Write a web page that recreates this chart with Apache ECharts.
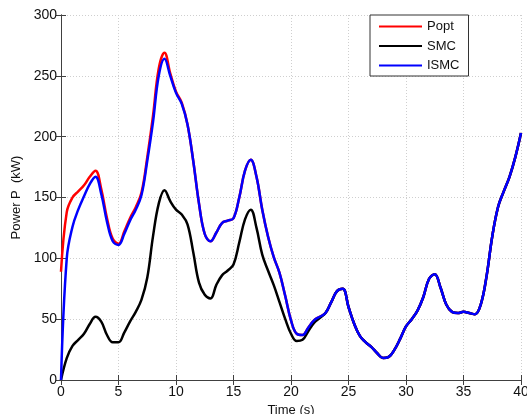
<!DOCTYPE html>
<html>
<head>
<meta charset="utf-8">
<script src="https://cdn.jsdelivr.net/npm/echarts@6/dist/echarts.min.js"></script>
<style>
  html, body { margin: 0; padding: 0; background: #fff; }
  #chart { width: 527px; height: 414px; }
</style>
</head>
<body>
<div id="chart"></div>
<script>
// 时间轴 (s)，每 0.5 s 一个点
const time = [];
for (let i = 0; i <= 80; i++) time.push(i * 0.5);

// Popt
const popt = [
  89, 138, 150, 155, 160, 167, 172, 157, 133, 116,
  112, 122, 133, 142, 154, 183, 217, 256, 269, 252,
  237, 228, 210, 180, 145, 120, 114, 121, 129, 131,
  133, 150, 172, 181, 167, 140, 118, 101, 88, 69,
  49, 38, 37, 43, 49, 52, 55, 64, 73, 75,
  60, 46, 36, 31, 27, 22, 18, 19, 25, 34,
  44, 50, 57, 68, 83, 87, 76, 62, 56, 55,
  56, 55, 54, 62, 85, 118, 142, 155, 167, 183,
  203
];

// SMC
const smc = [
  0, 18, 28, 33, 38, 46, 52, 48, 37, 31,
  31, 39, 48, 56, 66, 84, 118, 145, 156, 147,
  140, 136, 128, 105, 80, 70, 67, 78, 86, 90,
  95, 113, 132, 140, 125, 103, 90, 78, 64, 50,
  38, 32, 33, 40, 47, 51, 55, 64, 73, 75,
  60, 46, 36, 31, 27, 22, 18, 19, 25, 34,
  44, 50, 57, 68, 83, 87, 76, 62, 56, 55,
  56, 55, 54, 62, 85, 118, 142, 155, 167, 183,
  203
];

// ISMC
const ismc = [
  0, 100, 126, 140, 151, 161, 167, 153, 130, 114,
  111, 120, 131, 140, 152, 180, 212, 250, 264, 250,
  236, 227, 210, 180, 145, 120, 114, 121, 129, 131,
  133, 150, 172, 181, 167, 140, 118, 101, 88, 69,
  49, 38, 37, 43, 49, 52, 55, 64, 73, 75,
  60, 46, 36, 31, 27, 22, 18, 19, 25, 34,
  44, 50, 57, 68, 83, 87, 76, 62, 56, 55,
  56, 55, 54, 62, 85, 118, 142, 155, 167, 183,
  203
];

const seriesNames = ["Popt", "SMC", "ISMC"];
const seriesColors = ["#ff0000", "#000000", "#0000ff"];

const font = "Arial, 'Liberation Sans', sans-serif";
const axisColor = "#404040";

const pairs = (ys) => time.map((t, i) => [t, ys[i]]);

const frameAxis = (extra) => Object.assign({
    axisLine: {show: true, lineStyle: {color: axisColor, width: 1}},
    axisTick: {show: true, inside: true, length: 5, lineStyle: {color: axisColor}},
    splitLine: {show: false},
    axisLabel: {show: false},
}, extra);

const chart = echarts.init(document.getElementById("chart"));
chart.setOption({
    animation: false,
    backgroundColor: "#fff",
    textStyle: {fontFamily: font},
    grid: {left: 61, right: 6, top: 15, bottom: 34, containLabel: false, outerBoundsMode: "none"},
    legend: {
        orient: "vertical",
        left: 370,
        top: 15,
        data: seriesNames,
        itemWidth: 43,
        itemHeight: 14,
        itemGap: 6.5,
        itemTextGap: 6,
        padding: [5, 9, 4, 8],
        borderColor: "#333",
        borderWidth: 1,
        backgroundColor: "#fff",
        itemStyle: {opacity: 0},
        lineStyle: {width: 2},
        textStyle: {fontSize: 13, color: "#111", fontFamily: font},
    },
    xAxis: [
        {
            type: "value", min: 0, max: 40, interval: 5,
            name: "Time (s)", nameLocation: "middle", nameGap: 22,
            nameTextStyle: {fontSize: 13, color: "#111", fontFamily: font},
            axisLine: {lineStyle: {color: axisColor, width: 1}},
            axisTick: {inside: true, length: 5, lineStyle: {color: axisColor}},
            axisLabel: {fontSize: 14, color: "#111", margin: 5, fontFamily: font},
            splitLine: {show: true, lineStyle: {color: "#cfcfcf", type: [1, 2]}},
        },
        frameAxis({type: "value", position: "top", min: 0, max: 40, interval: 5}),
    ],
    yAxis: [
        {
            type: "value", min: 0, max: 300, interval: 50,
            name: "Power P  (kW)", nameLocation: "middle", nameGap: 37,
            nameTextStyle: {fontSize: 13, color: "#111", fontFamily: font},
            axisLine: {show: true, lineStyle: {color: axisColor, width: 1}},
            axisTick: {show: true, inside: true, length: 5, lineStyle: {color: axisColor}},
            axisLabel: {fontSize: 14, color: "#111", margin: 4, fontFamily: font},
            splitLine: {show: true, lineStyle: {color: "#cfcfcf", type: [1, 2]}},
        },
        frameAxis({type: "value", position: "right", min: 0, max: 300, interval: 50}),
    ],
    series: [
        {name: "Popt", type: "line", data: pairs(popt)},
        {name: "SMC", type: "line", data: pairs(smc)},
        {name: "ISMC", type: "line", data: pairs(ismc)},
    ].map((s, i) => Object.assign(s, {
        smooth: 0.4,
        symbol: "none",
        color: seriesColors[i],
        lineStyle: {width: 2.5, color: seriesColors[i]},
    })),
});
</script>
</body>
</html>
